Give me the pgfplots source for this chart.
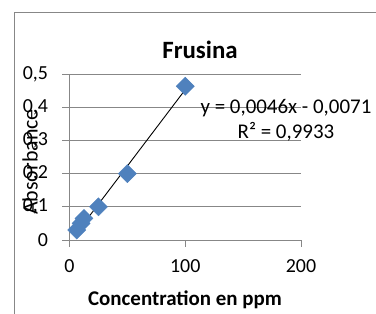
\documentclass[border=0pt]{standalone}
\usepackage{fontspec}
\setmainfont{Carlito}
\usepackage{pgfplots}
\pgfplotsset{compat=1.18}
\definecolor{exblue}{HTML}{4F81BD}
\definecolor{gridgray}{HTML}{878787}
\begin{document}
\begin{tikzpicture}[x=1bp,y=1bp]
\useasboundingbox (0,0) rectangle (376,314);
\draw[gridgray, line width=1bp] (14,-5) -- (14,301) -- (380,301);
\begin{axis}[
  at={(69.5bp,74bp)}, anchor=south west,
  scale only axis, width=231.5bp, height=166bp,
  xmin=0, xmax=200, ymin=0, ymax=0.5,
  xtick={0,100,200}, ytick={0,0.1,0.2,0.3,0.4,0.5},
  axis x line*=bottom, axis y line*=left,
  axis line style={gridgray, line width=0.9bp},
  tick align=outside, major tick length=7bp,
  tick style={gridgray, line width=0.9bp},
  ymajorgrids, grid style={gridgray, line width=0.9bp},
  tick label style={font=\fontsize{20}{24}\selectfont},
  /pgf/number format/assume math mode=true,
  /pgf/number format/use comma,
  yticklabel style={/pgf/number format/fixed, /pgf/number format/precision=1, xshift=-11bp},
  xticklabel style={yshift=-9bp},
  clip=false,
]
\addplot[only marks, mark=square*, mark size=6.4bp,
  mark options={rotate=45, fill=exblue, draw=exblue}]
  coordinates {(6.25,0.03) (10,0.05) (12.5,0.065) (25,0.1) (50,0.2) (100,0.463)};
\addplot[black, line width=0.9bp] coordinates {(6.25,0.0217) (100,0.4529)};
\node[font=\fontsize{21}{24}\selectfont, anchor=center] at (axis cs:187,0.3976) {y = 0,0046x - 0,0071};
\node[font=\fontsize{21}{24}\selectfont, anchor=center] at (axis cs:187,0.325) {R² = 0,9933};
\end{axis}
\node[font=\bfseries\fontsize{25}{28}\selectfont] at (200,264) {Frusina};
\node[font=\bfseries\fontsize{21}{24}\selectfont] at (185,14) {Concentration en ppm};
\node[rotate=90, font=\fontsize{22}{24}\selectfont] at (30,152) {Absorbance};
\end{tikzpicture}
\end{document}
